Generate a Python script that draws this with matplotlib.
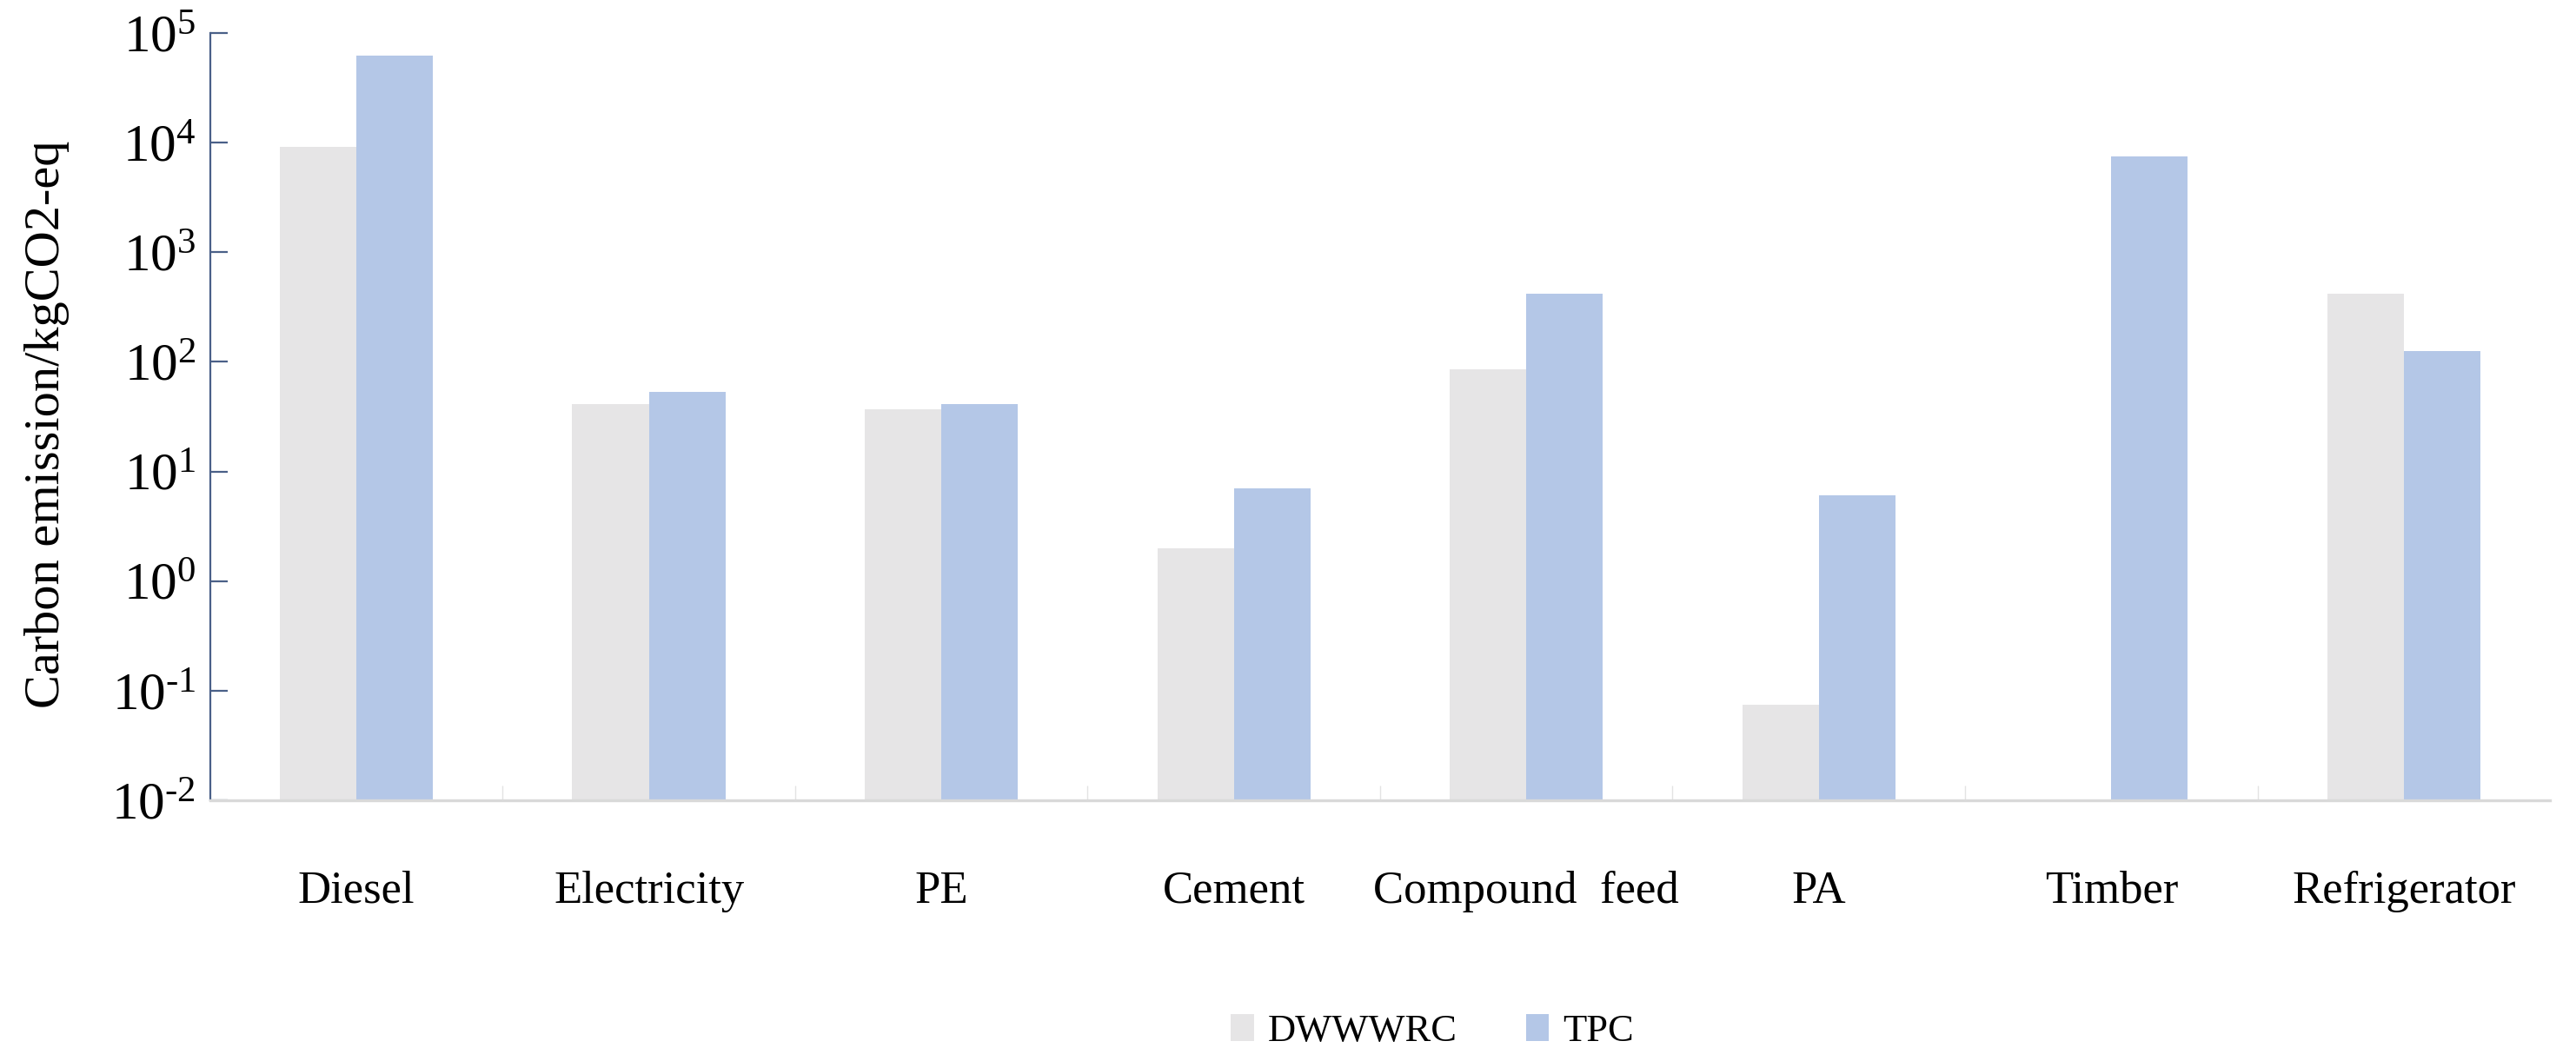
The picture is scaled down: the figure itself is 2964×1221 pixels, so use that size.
import numpy as np
import matplotlib
matplotlib.use('Agg')
import matplotlib.pyplot as plt
from matplotlib.ticker import FixedLocator, NullLocator

# data (log scale)
categories = ['Diesel', 'Electricity', 'PE', 'Cement', 'Compound  feed', 'PA', 'Timber', 'Refrigerator']
dwwwrc = [9200, 41.5, 36.6, 1.98, 86, 0.074, np.nan, 421]
tpc = [62700, 53.6, 41.5, 6.95, 417, 6.07, 7500, 126]
series_names = ['DWWWRC', 'TPC']
y_decades = [-2, -1, 0, 1, 2, 3, 4, 5]

GRAY = '#e6e5e6'
BLUE = '#b4c7e7'
SPINE = '#4a6088'
AXIS_GRAY = '#d9d9d9'

plt.rcParams['font.family'] = 'Liberation Serif'
plt.rcParams['mathtext.fontset'] = 'custom'
plt.rcParams['mathtext.rm'] = 'Liberation Serif'
plt.rcParams['mathtext.it'] = 'Liberation Serif:italic'


def main() -> None:
    fig = plt.figure(figsize=(29.64, 12.21), dpi=100)
    ax = fig.add_axes([0.0816, 0.2457, 0.9083, 0.7232])

    x = np.arange(len(categories))
    w = 0.262
    ax.set_yscale('log')
    ax.bar(x - w / 2, dwwwrc, width=w, color=GRAY, label=series_names[0])
    ax.bar(x + w / 2, tpc, width=w, color=BLUE, label=series_names[1])

    ax.set_xlim(-0.5, len(categories) - 0.5)
    ax.set_ylim(10.0 ** y_decades[0], 10.0 ** y_decades[-1])

    # spines
    for s in ['top', 'right']:
        ax.spines[s].set_visible(False)
    ax.spines['left'].set_color(SPINE)
    ax.spines['left'].set_linewidth(1.6)
    ax.spines['bottom'].set_color(AXIS_GRAY)
    ax.spines['bottom'].set_linewidth(2.4)

    # y ticks, hyphen instead of minus like the original
    ax.yaxis.set_major_locator(FixedLocator([10.0 ** d for d in y_decades]))
    ax.yaxis.set_minor_locator(NullLocator())
    ax.set_yticklabels(['$10^{\\text{%d}}$' % d for d in y_decades])
    ax.tick_params(axis='y', which='major', direction='in', length=14.4, width=1.6,
                   color=SPINE, labelsize=44, pad=12)

    # x ticks: labels at centres, small boundary ticks
    ax.set_xticks(x)
    ax.set_xticklabels(categories)
    ax.tick_params(axis='x', which='major', length=0, labelsize=38, pad=58)
    ax.set_xticks(np.arange(len(categories) - 1) + 0.5, minor=True)
    ax.tick_params(axis='x', which='minor', direction='in', length=12, width=1.0,
                   color='#e3e3e3')

    ax.set_ylabel('Carbon emission/kgCO2-eq', fontsize=42)
    ax.yaxis.set_label_coords(-0.06, 0.49)

    fig.legend(loc='center', bbox_to_anchor=(0.556, 0.028), ncol=2, frameon=False,
               fontsize=32, handlelength=0.6, handleheight=0.72,
               handletextpad=0.36, columnspacing=1.78)

    fig.savefig('out.png', dpi=100)


if __name__ == '__main__':
    main()
